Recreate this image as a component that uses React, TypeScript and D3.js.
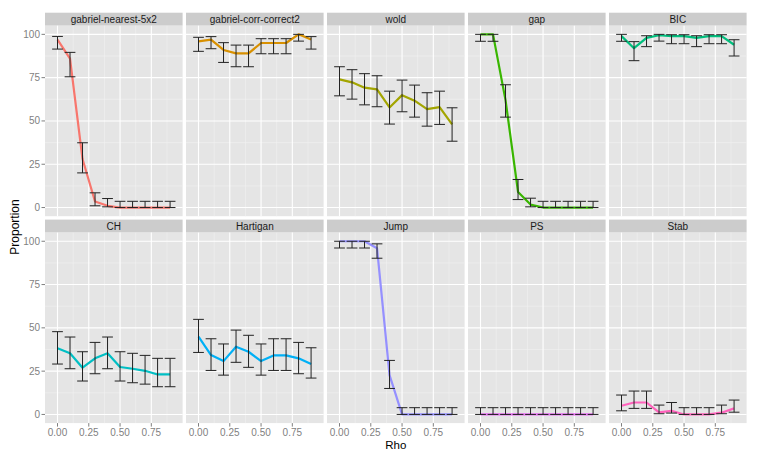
import * as d3 from "d3";
import { useEffect, useRef } from "react";

// Rho values on the x axis
const rho = [0, 0.1, 0.2, 0.3, 0.4, 0.5, 0.6, 0.7, 0.8, 0.9];

const methods = [
    "gabriel-nearest-5x2", "gabriel-corr-correct2", "wold", "gap", "BIC",
    "CH", "Hartigan", "Jump", "PS", "Stab"
];

const colors = [
    "#F8766D", "#D89000", "#A3A500", "#39B600", "#00BF7D",
    "#00BFC4", "#00B0F6", "#9590FF", "#E76BF3", "#FF62BC"
];

// proportion (mean) per method
const means = [
    [97, 86, 28, 3.5, 1, 0, 0, 0, 0, 0],
    [96, 97, 91, 89, 89, 95, 95, 95, 100, 97],
    [74, 72.3, 69.2, 68.2, 57.8, 64.9, 61.7, 56.8, 58, 48],
    [100, 100, 62, 9, 1.7, 0, 0, 0, 0, 0],
    [99, 92, 98, 99.5, 99, 99, 98, 99, 99, 94],
    [38.2, 35.3, 27, 32.4, 35.3, 27.4, 26.4, 25.2, 23.1, 23.1],
    [44.9, 34.3, 30.8, 39.1, 36.2, 30.8, 34.1, 34.1, 32.4, 29.1],
    [100, 100, 100, 96, 22.7, 0, 0, 0, 0, 0],
    [0, 0, 0, 0, 0, 0, 0, 0, 0, 0],
    [5, 6.9, 6.9, 1.2, 2.1, 0, 0, 0, 1, 3.5]
];

// lower end of error bar
const lows = [
    [91.5, 75.5, 20, 1, 0.4, 0, 0, 0, 0, 0],
    [90.2, 91.7, 83.8, 81.3, 81.3, 88.8, 88.8, 88.8, 96.1, 91.5],
    [64.5, 62.6, 59.3, 58.2, 48.2, 55.3, 52.2, 47, 48, 38.3],
    [96, 96, 52.2, 4.6, 0.4, 0, 0, 0, 0, 0],
    [96, 84.8, 92.9, 96.1, 94.6, 94.6, 92.9, 94.6, 94.6, 87.5],
    [29.1, 26.4, 19.3, 23.5, 26.4, 19.3, 18.3, 17.5, 16, 16],
    [35.8, 25.4, 22.7, 30.1, 27.2, 22.7, 25.4, 25.4, 23.5, 21],
    [96.1, 96.1, 96.1, 90.2, 15, 0, 0, 0, 0, 0],
    [0, 0, 0, 0, 0, 0, 0, 0, 0, 0],
    [2.1, 3.5, 3.5, 0.4, 0.8, 0, 0, 0, 0.4, 1.3]
];

// upper end of error bar
const highs = [
    [98.8, 89.6, 37.4, 8.5, 5.2, 3.6, 3.6, 3.6, 3.6, 3.6],
    [98.3, 98.7, 95.2, 93.8, 93.8, 97.5, 97.5, 97.5, 100, 98.7],
    [81.3, 79.6, 77.3, 76.1, 67.2, 73.6, 70.7, 66.3, 67.2, 57.6],
    [100, 100, 70.9, 16.2, 5.4, 3.6, 3.6, 3.6, 3.6, 3.6],
    [100, 95.8, 99.2, 100, 99.8, 99.8, 99.2, 99.8, 99.8, 96.9],
    [47.8, 44.7, 36.2, 41.6, 44.7, 36.2, 35.3, 34.1, 32.4, 32.4],
    [54.9, 43.7, 40.7, 48.7, 45.7, 40.7, 43.7, 43.7, 41.6, 38.5],
    [100, 100, 100, 98.5, 31.2, 3.9, 3.9, 3.9, 3.9, 3.9],
    [3.9, 3.9, 3.9, 3.9, 3.9, 3.9, 3.9, 3.9, 3.9, 3.9],
    [11.2, 13.5, 13.5, 5.4, 6.9, 3.9, 3.9, 3.9, 5.4, 8.3]
];

const xTicks = [0, 0.25, 0.5, 0.75];
const xMinor = [0.125, 0.375, 0.625, 0.875];
const yTicks = [0, 25, 50, 75, 100];
const yMinor = [12.5, 37.5, 62.5, 87.5];

const App = () => {
    const svgRef = useRef<SVGSVGElement | null>(null);

    useEffect(() => {
        if (!svgRef.current) return;

        const width = 761;
        const height = 457;
        const left = 45;
        const top = 12.7;
        const panelW = 137.6;
        const panelH = 190.5;
        const stripH = 13;
        const gap = 3.4;
        const font = "'Liberation Sans', Arial, sans-serif";

        const svg = d3.select(svgRef.current)
            .attr("width", width)
            .attr("height", height)
            .style("background", "#fff");
        svg.selectAll("*").remove();

        const x = d3.scaleLinear().domain([-0.1, 1.0]).range([0, panelW]);
        const y = d3.scaleLinear().domain([-5, 105]).range([panelH, 0]);
        const capHalf = 0.043;

        methods.forEach((name, i) => {
            const col = i % 5;
            const row = Math.floor(i / 5);
            const px = left + col * (panelW + gap);
            const py = top + row * (stripH + panelH + gap);

            const g = svg.append("g").attr("transform", `translate(${px},${py})`);

            // strip
            g.append("rect")
                .attr("width", panelW).attr("height", stripH)
                .attr("fill", "#CCCCCC");
            g.append("text")
                .attr("x", panelW / 2).attr("y", stripH / 2 + 3.5)
                .attr("text-anchor", "middle")
                .attr("font-family", font).attr("font-size", 10)
                .attr("fill", "#1A1A1A")
                .text(name);

            const p = g.append("g").attr("transform", `translate(0,${stripH})`);
            p.append("rect")
                .attr("width", panelW).attr("height", panelH)
                .attr("fill", "#E5E5E5");

            // minor grid
            yMinor.forEach(v => {
                p.append("line")
                    .attr("x1", 0).attr("x2", panelW)
                    .attr("y1", y(v)).attr("y2", y(v))
                    .attr("stroke", "#F2F2F2").attr("stroke-width", 0.6);
            });
            xMinor.forEach(v => {
                p.append("line")
                    .attr("y1", 0).attr("y2", panelH)
                    .attr("x1", x(v)).attr("x2", x(v))
                    .attr("stroke", "#F2F2F2").attr("stroke-width", 0.6);
            });
            // major grid
            yTicks.forEach(v => {
                p.append("line")
                    .attr("x1", 0).attr("x2", panelW)
                    .attr("y1", y(v)).attr("y2", y(v))
                    .attr("stroke", "#FFFFFF").attr("stroke-width", 1.1);
            });
            xTicks.forEach(v => {
                p.append("line")
                    .attr("y1", 0).attr("y2", panelH)
                    .attr("x1", x(v)).attr("x2", x(v))
                    .attr("stroke", "#FFFFFF").attr("stroke-width", 1.1);
            });

            const pts = rho.map((r, k) => ({ r, m: means[i][k], lo: lows[i][k], hi: highs[i][k] }));

            const line = d3.line<{ r: number; m: number }>()
                .x(d => x(d.r))
                .y(d => y(d.m));

            p.append("path")
                .datum(pts)
                .attr("fill", "none")
                .attr("stroke", colors[i])
                .attr("stroke-width", 2.2)
                .attr("stroke-linejoin", "round")
                .attr("d", line);

            // error bars
            const eb = p.append("g")
                .attr("stroke", "#222")
                .attr("stroke-width", 1)
                .attr("fill", "none");
            pts.forEach(d => {
                eb.append("line")
                    .attr("x1", x(d.r)).attr("x2", x(d.r))
                    .attr("y1", y(d.lo)).attr("y2", y(d.hi));
                eb.append("line")
                    .attr("x1", x(d.r - capHalf)).attr("x2", x(d.r + capHalf))
                    .attr("y1", y(d.lo)).attr("y2", y(d.lo));
                eb.append("line")
                    .attr("x1", x(d.r - capHalf)).attr("x2", x(d.r + capHalf))
                    .attr("y1", y(d.hi)).attr("y2", y(d.hi));
            });

            // y axis on the first column
            if (col === 0) {
                yTicks.forEach(v => {
                    p.append("line")
                        .attr("x1", -3.5).attr("x2", 0)
                        .attr("y1", y(v)).attr("y2", y(v))
                        .attr("stroke", "#7F7F7F");
                    p.append("text")
                        .attr("x", -5).attr("y", y(v) + 3.5)
                        .attr("text-anchor", "end")
                        .attr("font-family", font).attr("font-size", 10)
                        .attr("fill", "#7F7F7F")
                        .text(v);
                });
            }

            // x axis on the bottom row
            if (row === 1) {
                xTicks.forEach(v => {
                    p.append("line")
                        .attr("x1", x(v)).attr("x2", x(v))
                        .attr("y1", panelH).attr("y2", panelH + 3.5)
                        .attr("stroke", "#7F7F7F");
                    p.append("text")
                        .attr("x", x(v)).attr("y", panelH + 12.5)
                        .attr("text-anchor", "middle")
                        .attr("font-family", font).attr("font-size", 10)
                        .attr("fill", "#7F7F7F")
                        .text(d3.format(".2f")(v));
                });
            }
        });

        // axis titles
        const plotRight = left + 5 * panelW + 4 * gap;
        svg.append("text")
            .attr("x", (left + plotRight) / 2).attr("y", 448.5)
            .attr("text-anchor", "middle")
            .attr("font-family", font).attr("font-size", 11.5)
            .text("Rho");
        svg.append("text")
            .attr("transform", `translate(19,227) rotate(-90)`)
            .attr("text-anchor", "middle")
            .attr("font-family", font).attr("font-size", 12)
            .text("Proportion");
    }, []);

    return (
        <svg ref={svgRef} style={{ position: "absolute", left: 0, top: 0 }}></svg>
    );
};

export default App;
